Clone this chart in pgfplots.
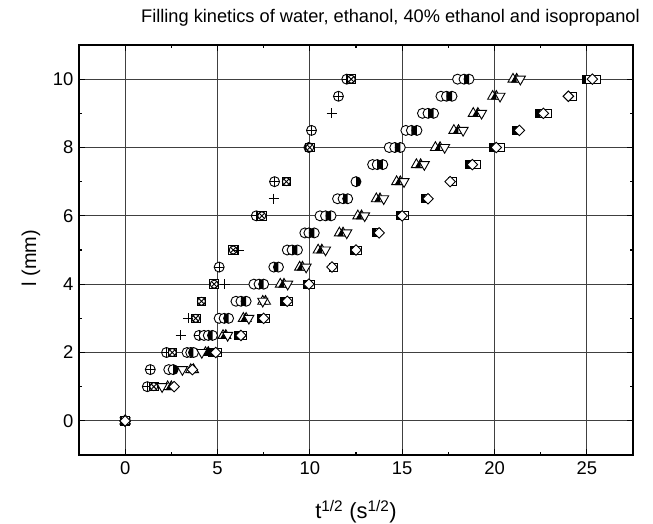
\documentclass[border=0pt]{standalone}
\usepackage{fontspec}
\setmainfont{Liberation Sans}
\usepackage{pgfplots}
\pgfplotsset{compat=1.18}
\usetikzlibrary{plotmarks}

% half-filled and combined marks, all with a white body
\pgfdeclareplotmark{cO}{%
  \pgfpathcircle{\pgfpointorigin}{\pgfplotmarksize}\pgfsetfillcolor{white}\pgfusepathqfillstroke}
\pgfdeclareplotmark{cL}{%
  \pgfpathcircle{\pgfpointorigin}{\pgfplotmarksize}\pgfsetfillcolor{white}\pgfusepathqfill
  \pgfpathmoveto{\pgfqpoint{0pt}{\pgfplotmarksize}}\pgfpatharc{90}{270}{\pgfplotmarksize}\pgfpathclose
  \pgfsetfillcolor{black}\pgfusepathqfill
  \pgfpathcircle{\pgfpointorigin}{\pgfplotmarksize}\pgfusepathqstroke}
\pgfdeclareplotmark{cR}{%
  \pgfpathcircle{\pgfpointorigin}{\pgfplotmarksize}\pgfsetfillcolor{white}\pgfusepathqfill
  \pgfpathmoveto{\pgfqpoint{0pt}{-\pgfplotmarksize}}\pgfpatharc{-90}{90}{\pgfplotmarksize}\pgfpathclose
  \pgfsetfillcolor{black}\pgfusepathqfill
  \pgfpathcircle{\pgfpointorigin}{\pgfplotmarksize}\pgfusepathqstroke}
\pgfdeclareplotmark{oplusW}{%
  \pgfpathcircle{\pgfpointorigin}{\pgfplotmarksize}\pgfsetfillcolor{white}\pgfusepathqfillstroke
  \pgfpathmoveto{\pgfqpoint{-\pgfplotmarksize}{0pt}}\pgfpathlineto{\pgfqpoint{\pgfplotmarksize}{0pt}}
  \pgfpathmoveto{\pgfqpoint{0pt}{-\pgfplotmarksize}}\pgfpathlineto{\pgfqpoint{0pt}{\pgfplotmarksize}}
  \pgfusepathqstroke}
\pgfdeclareplotmark{otimesSq}{%
  \pgfpathrectangle{\pgfqpoint{-.85\pgfplotmarksize}{-.85\pgfplotmarksize}}{\pgfqpoint{1.7\pgfplotmarksize}{1.7\pgfplotmarksize}}
  \pgfsetfillcolor{white}\pgfusepathqfillstroke
  \pgfpathcircle{\pgfpointorigin}{.8\pgfplotmarksize}\pgfusepathqstroke
  \pgfpathmoveto{\pgfqpoint{-.6\pgfplotmarksize}{-.6\pgfplotmarksize}}\pgfpathlineto{\pgfqpoint{.6\pgfplotmarksize}{.6\pgfplotmarksize}}
  \pgfpathmoveto{\pgfqpoint{-.6\pgfplotmarksize}{.6\pgfplotmarksize}}\pgfpathlineto{\pgfqpoint{.6\pgfplotmarksize}{-.6\pgfplotmarksize}}
  \pgfusepathqstroke}
\pgfdeclareplotmark{tU}{%
  \pgfpathmoveto{\pgfqpoint{0pt}{1.15\pgfplotmarksize}}
  \pgfpathlineto{\pgfqpoint{-1\pgfplotmarksize}{-.6\pgfplotmarksize}}
  \pgfpathlineto{\pgfqpoint{1\pgfplotmarksize}{-.6\pgfplotmarksize}}\pgfpathclose
  \pgfsetfillcolor{white}\pgfusepathqfillstroke}
\pgfdeclareplotmark{tD}{%
  \pgfpathmoveto{\pgfqpoint{0pt}{-1.15\pgfplotmarksize}}
  \pgfpathlineto{\pgfqpoint{-1\pgfplotmarksize}{.6\pgfplotmarksize}}
  \pgfpathlineto{\pgfqpoint{1\pgfplotmarksize}{.6\pgfplotmarksize}}\pgfpathclose
  \pgfsetfillcolor{white}\pgfusepathqfillstroke}
\pgfdeclareplotmark{tL}{%
  \pgfpathmoveto{\pgfqpoint{0pt}{1.15\pgfplotmarksize}}
  \pgfpathlineto{\pgfqpoint{-1\pgfplotmarksize}{-.6\pgfplotmarksize}}
  \pgfpathlineto{\pgfqpoint{1\pgfplotmarksize}{-.6\pgfplotmarksize}}\pgfpathclose
  \pgfsetfillcolor{white}\pgfusepathqfill
  \pgfpathmoveto{\pgfqpoint{0pt}{1.15\pgfplotmarksize}}
  \pgfpathlineto{\pgfqpoint{-1\pgfplotmarksize}{-.6\pgfplotmarksize}}
  \pgfpathlineto{\pgfqpoint{0pt}{-.6\pgfplotmarksize}}\pgfpathclose
  \pgfsetfillcolor{black}\pgfusepathqfill
  \pgfpathmoveto{\pgfqpoint{0pt}{1.15\pgfplotmarksize}}
  \pgfpathlineto{\pgfqpoint{-1\pgfplotmarksize}{-.6\pgfplotmarksize}}
  \pgfpathlineto{\pgfqpoint{1\pgfplotmarksize}{-.6\pgfplotmarksize}}\pgfpathclose
  \pgfusepathqstroke}
\pgfdeclareplotmark{dW}{%
  \pgfpathmoveto{\pgfqpoint{0pt}{1.05\pgfplotmarksize}}
  \pgfpathlineto{\pgfqpoint{1.05\pgfplotmarksize}{0pt}}
  \pgfpathlineto{\pgfqpoint{0pt}{-1.05\pgfplotmarksize}}
  \pgfpathlineto{\pgfqpoint{-1.05\pgfplotmarksize}{0pt}}\pgfpathclose
  \pgfsetfillcolor{white}\pgfusepathqfillstroke}
\pgfdeclareplotmark{sW}{%
  \pgfpathrectangle{\pgfqpoint{-.8\pgfplotmarksize}{-.8\pgfplotmarksize}}{\pgfqpoint{1.6\pgfplotmarksize}{1.6\pgfplotmarksize}}
  \pgfsetfillcolor{white}\pgfusepathqfillstroke}
\pgfdeclareplotmark{sL}{%
  \pgfpathrectangle{\pgfqpoint{-.8\pgfplotmarksize}{-.8\pgfplotmarksize}}{\pgfqpoint{1.6\pgfplotmarksize}{1.6\pgfplotmarksize}}
  \pgfsetfillcolor{white}\pgfusepathqfill
  \pgfpathrectangle{\pgfqpoint{-.8\pgfplotmarksize}{-.8\pgfplotmarksize}}{\pgfqpoint{.8\pgfplotmarksize}{1.6\pgfplotmarksize}}
  \pgfsetfillcolor{black}\pgfusepathqfill
  \pgfpathrectangle{\pgfqpoint{-.8\pgfplotmarksize}{-.8\pgfplotmarksize}}{\pgfqpoint{1.6\pgfplotmarksize}{1.6\pgfplotmarksize}}
  \pgfusepathqstroke}

\begin{document}
\begin{tikzpicture}
\begin{axis}[
    scale only axis,
    width=554bp, height=410bp,
    xmin=-2.5, xmax=27.5, ymin=-1, ymax=11,
    xtick={0,5,...,25}, ytick={0,2,...,10},
    minor x tick num=1, minor y tick num=1,
    tick align=inside,
    major tick length=6bp, minor tick length=3.5bp,
    every tick/.style={black, line width=1.1bp},
    axis line style={line width=1.3bp},
    grid=major,
    major grid style={black!75, line width=0.8bp},
    /pgf/number format/assume math mode=true,
    tick label style={font=\fontsize{18.5}{20}\selectfont},
    xticklabel style={yshift=-3bp},
    yticklabel style={xshift=-2bp},
    xlabel={t\textsuperscript{1/2} (s\textsuperscript{1/2})},
    ylabel={l (mm)},
    xlabel style={font=\fontsize{22}{24}\selectfont, at={(0.5,-0.156)}, anchor=base},
    ylabel style={font=\fontsize{20}{22}\selectfont, at={(-0.0776,0.48)}, anchor=base},
    title={Filling kinetics of water, ethanol, 40\% ethanol and isopropanol},
    title style={font=\fontsize{18.3}{21}\selectfont, inner sep=0pt,
                 at={(1.0126,1.0415)}, anchor=base east},
    only marks, mark size=5bp,
    every axis plot/.append style={line width=0.9bp, black},
]
\coordinate (ll) at (rel axis cs:0,0);
\coordinate (ur) at (rel axis cs:1,1);
% group 1: plus-circle, cross-square, plus
\addplot[mark=oplusW] coordinates {
 (0,0) (1.2,1) (1.36,1.5) (2.24,2) (4.0,2.5) (5.09,4.5) (7.1,6) (8.09,7)
 (9.95,8) (10.09,8.5) (11.55,9.5) (12.0,10)};
\addplot[mark=otimesSq] coordinates {
 (0,0) (1.55,1) (2.55,2) (3.82,3) (4.13,3.5) (4.82,4) (5.85,5) (7.4,6)
 (8.73,7) (10.0,8) (12.24,10)};
\addplot[mark=+] coordinates {
 (0,0) (3.0,2.5) (3.4,3) (5.4,4) (6.15,5) (8.04,6.5) (11.18,9)};
% group 2: circles
\addplot[mark=cO] coordinates {
 (0,0) (2.36,1.5) (3.35,2) (4.27,2.5) (5.09,3) (6.0,3.5) (6.97,4) (8.78,5)
 (9.73,5.5) (10.55,6) (11.5,6.5) (13.4,7.5) (14.3,8) (15.2,8.5) (16.1,9)
 (17.1,9.5) (18.0,10)};
\addplot[mark=cR] coordinates {
 (0,0) (2.6,1.5) (3.55,2) (4.5,2.5) (5.36,3) (6.27,3.5) (7.25,4) (8.05,4.5)
 (9.04,5) (9.95,5.5) (10.85,6) (11.8,6.5) (12.5,7) (13.65,7.5) (14.6,8)
 (15.5,8.5) (16.4,9) (17.4,9.5) (18.35,10)};
\addplot[mark=cL] coordinates {
 (0,0) (3.7,2) (4.73,2.5) (5.6,3) (6.55,3.5) (7.5,4) (8.3,4.5) (9.33,5)
 (10.24,5.5) (11.15,6) (12.05,6.5) (13.95,7.5) (14.9,8) (15.8,8.5) (16.7,9)
 (17.7,9.5) (18.62,10)};
% group 3: triangles
\addplot[mark=tU] coordinates {
 (0,0) (2.3,1) (3.55,1.5) (4.35,2) (5.3,2.5) (6.4,3) (7.45,3.5) (8.4,4)
 (9.45,4.5) (10.45,5) (11.6,5.5) (12.6,6) (13.6,6.5) (14.7,7) (15.77,7.5)
 (16.8,8) (17.8,8.5) (18.85,9) (19.9,9.5) (21.0,10)};
\addplot[mark=tL] coordinates {
 (0,0) (2.5,1) (3.7,1.5) (4.5,2) (5.45,2.5) (6.55,3) (7.6,3.5) (8.6,4)
 (9.6,4.5) (10.65,5) (11.8,5.5) (12.8,6) (13.8,6.5) (14.9,7) (16.0,7.5)
 (17.05,8) (18.05,8.5) (19.1,9) (20.1,9.5) (21.2,10)};
\addplot[mark=tD] coordinates {
 (0,0) (2.0,1) (3.1,1.5) (4.15,2) (5.55,2.5) (6.7,3) (7.45,3.5) (8.8,4)
 (9.8,4.5) (10.85,5) (12.0,5.5) (12.97,6) (14.0,6.5) (15.1,7) (16.2,7.5)
 (17.3,8) (18.3,8.5) (19.3,9) (20.3,9.5) (21.4,10)};
% group 4: squares and diamonds
\addplot[mark=sL] coordinates {
 (0,0) (4.75,2) (6.15,2.5) (7.4,3) (8.65,3.5) (9.85,4) (12.4,5) (13.6,5.5)
 (14.9,6) (16.25,6.5) (18.65,7.5) (19.95,8) (21.2,8.5) (22.45,9) (24.97,10)};
\addplot[mark=sW] coordinates {
 (0,0) (5.0,2) (6.35,2.5) (7.6,3) (8.85,3.5) (10.05,4) (11.3,4.5) (12.6,5)
 (15.1,6) (17.7,7) (19.0,7.5) (20.3,8) (22.85,9) (24.2,9.5) (25.5,10)};
\addplot[mark=dW] coordinates {
 (0,0) (2.65,1) (3.64,1.5) (4.9,2) (6.27,2.5) (7.5,3) (8.78,3.5) (9.95,4)
 (11.2,4.5) (12.5,5) (13.75,5.5) (15.0,6) (16.4,6.5) (17.6,7) (18.8,7.5)
 (20.1,8) (21.35,8.5) (22.65,9) (24.0,9.5) (25.3,10)};
\end{axis}
\pgfresetboundingbox
\path[use as bounding box] ([shift={(-79bp,-69bp)}]ll) rectangle ([shift={(20bp,45bp)}]ur);
\end{tikzpicture}
\end{document}
